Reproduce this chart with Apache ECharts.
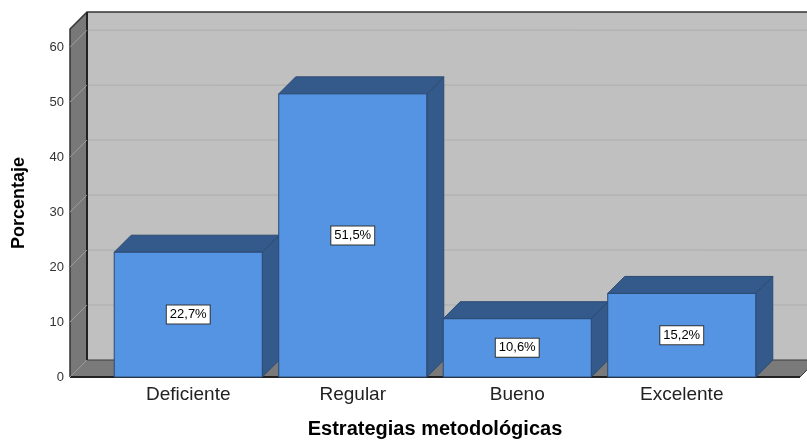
<!DOCTYPE html>
<html>
<head>
<meta charset="utf-8">
<script src="https://cdn.jsdelivr.net/npm/echarts@6/dist/echarts.min.js"></script>
<style>html,body{margin:0;padding:0;background:#fff;overflow:hidden;}#c{width:807px;height:444px;}</style>
</head>
<body>
<div id="c"></div>
<script>
const categories = ['Deficiente', 'Regular', 'Bueno', 'Excelente'];
const values = [22.7, 51.5, 10.6, 15.2];
const valueLabels = ['22,7%', '51,5%', '10,6%', '15,2%'];
const yTicks = [0, 10, 20, 30, 40, 50, 60];
const yMax = 63.3;

const DEPTH = 17;
const EXT = 36;
const FONT = 'Liberation Sans, Arial, sans-serif';

const chart = echarts.init(document.getElementById('c'), null, {renderer: 'canvas'});

function frameItem(params, api) {
  const cs = params.coordSys;
  const fl = cs.x - EXT, fr = cs.x + cs.width + EXT;
  const y0 = api.coord([0, 0])[1];
  const yt = api.coord([0, yMax])[1];
  const d = DEPTH;
  const children = [];
  children.push({type: 'polygon', shape: {points: [[fl + d, yt - d], [fr + d + 40, yt - d], [fr + d + 40, y0 - d], [fl + d, y0 - d]]},
    style: {fill: '#c0c0c0'}});
  yTicks.forEach(function (t) {
    if (t === 0) return;
    const y = api.coord([0, t])[1];
    children.push({type: 'line', shape: {x1: fl + d, y1: y - d, x2: fr + d + 40, y2: y - d}, style: {stroke: '#adadad', lineWidth: 1}});
  });
  children.push({type: 'polygon', shape: {points: [[fl, yt], [fl + d, yt - d], [fl + d, y0 - d], [fl, y0]]},
    style: {fill: '#787878'}});
  children.push({type: 'polygon', shape: {points: [[fl, y0], [fl + d, y0 - d], [fr + d, y0 - d], [fr, y0]]},
    style: {fill: '#7a7a7a', stroke: '#3a3a3a', lineWidth: 1}});
  children.push({type: 'polyline', shape: {points: [[fl, y0], [fl, yt], [fl + d, yt - d], [fr + d + 40, yt - d]]}, style: {stroke: '#333', lineWidth: 1.5, fill: null}});
  children.push({type: 'line', shape: {x1: fl + d, y1: yt - d, x2: fl + d, y2: y0 - d}, style: {stroke: '#222', lineWidth: 2}});
  children.push({type: 'line', shape: {x1: fl, y1: y0, x2: fr, y2: y0}, style: {stroke: '#222', lineWidth: 2}});
  children.push({type: 'line', shape: {x1: fl, y1: y0, x2: fl + d, y2: y0 - d}, style: {stroke: '#999', lineWidth: 1}});
  yTicks.forEach(function (t) {
    if (t === 0) return;
    const y = api.coord([0, t])[1];
    children.push({type: 'line', shape: {x1: fl, y1: y, x2: fl + d, y2: y - d}, style: {stroke: '#9c9c9c', lineWidth: 1}});
  });
  return {type: 'group', children: children};
}

function barItem(params, api) {
  const i = api.value(0);
  const v = api.value(1);
  const top = api.coord([i, v]);
  const base = api.coord([i, 0]);
  const mid = api.coord([i, v / 2]);
  const w = api.size([1, 0])[0] * 0.9;
  const d = DEPTH;
  const x0 = top[0] - w / 2, x1 = top[0] + w / 2;
  const yT = top[1], yB = base[1];
  const edge = '#2c4a70';
  return {type: 'group', children: [
    {type: 'polygon', shape: {points: [[x1, yT], [x1 + d, yT - d], [x1 + d, yB - d], [x1, yB]]},
      style: {fill: '#345a8b', stroke: edge, lineWidth: 1}},
    {type: 'polygon', shape: {points: [[x0, yT], [x0 + d, yT - d], [x1 + d, yT - d], [x1, yT]]},
      style: {fill: '#345a8b', stroke: edge, lineWidth: 1}},
    {type: 'rect', shape: {x: x0, y: yT, width: w, height: yB - yT},
      style: {fill: '#5494e3', stroke: edge, lineWidth: 1}},
    {type: 'text', x: mid[0], y: mid[1], style: {text: valueLabels[params.dataIndex], align: 'center', verticalAlign: 'middle',
      fill: '#000', font: '13px ' + FONT, backgroundColor: '#fff', borderColor: '#333', borderWidth: 1, padding: [3, 3, 2, 3]}}
  ]};
}

chart.setOption({
  animation: false,
  backgroundColor: '#fff',
  grid: {left: 106, right: 43, top: 29, bottom: 63.5},
  xAxis: {
    type: 'category', data: categories, boundaryGap: true,
    axisLine: {show: false}, axisTick: {show: false},
    axisLabel: {fontSize: 19, color: '#222', fontFamily: FONT, margin: 8},
    name: 'Estrategias metodológicas', nameLocation: 'middle', nameGap: 42,
    nameTextStyle: {fontSize: 20, fontWeight: 'bold', color: '#000', fontFamily: FONT}
  },
  yAxis: {
    type: 'value', min: 0, max: yMax, interval: 10,
    axisLine: {show: false}, axisTick: {show: false}, splitLine: {show: false},
    axisLabel: {fontSize: 13, color: '#333', fontFamily: FONT, margin: 42,
      formatter: function (v) { return yTicks.indexOf(v) >= 0 ? String(v) : ''; }},
    name: 'Porcentaje', nameLocation: 'middle', nameGap: 78,
    nameTextStyle: {fontSize: 18, fontWeight: 'bold', color: '#000', fontFamily: FONT}
  },
  series: [
    {type: 'custom', renderItem: frameItem, data: [[0, 0]], clip: false, z: 1, silent: true},
    {type: 'custom', renderItem: barItem, data: values.map(function (v, i) { return [i, v]; }), clip: false, z: 2}
  ]
});
</script>
</body>
</html>
